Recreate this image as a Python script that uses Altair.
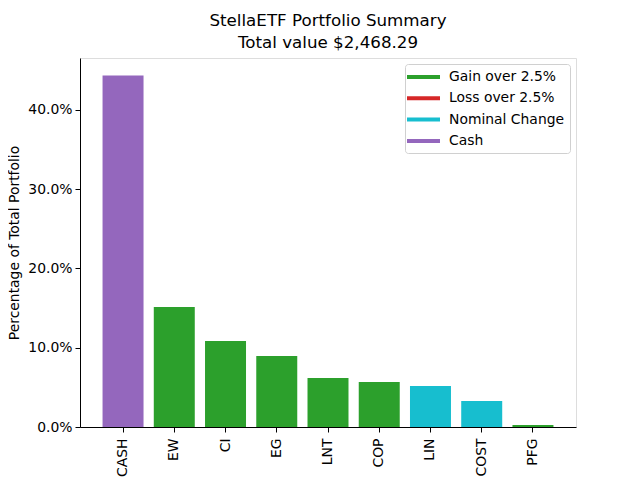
import altair as alt
import pandas as pd

tickers = ["CASH", "EW", "CI", "EG", "LNT", "COP", "LIN", "COST", "PFG"]
shares = [0.4435, 0.1514, 0.1085, 0.0896, 0.0618, 0.0568, 0.0517, 0.0328, 0.0025]
groups = ["Cash", "Gain over 2.5%", "Gain over 2.5%", "Gain over 2.5%", "Gain over 2.5%",
          "Gain over 2.5%", "Nominal Change", "Nominal Change", "Gain over 2.5%"]
legend_order = ["Gain over 2.5%", "Loss over 2.5%", "Nominal Change", "Cash"]
legend_colors = ["#2ca02c", "#d62728", "#17becf", "#9467bd"]

df = pd.DataFrame({"ticker": tickers, "share": shares, "group": groups})

FONT = "DejaVu Sans"

chart = alt.Chart(df).mark_bar().encode(
    x=alt.X("ticker:N", sort=None, title=None,
            scale=alt.Scale(paddingInner=0.2, paddingOuter=0.44),
            axis=alt.Axis(labelAngle=270, labelFontSize=13.9, labelColor="black",
                          tickColor="black", domainColor="black", tickSize=5,
                          labelPadding=6, labelFont=FONT)),
    y=alt.Y("share:Q", title="Percentage of Total Portfolio",
            scale=alt.Scale(domain=[0, 0.4656], nice=False, zero=True),
            axis=alt.Axis(format=".1%", values=[0, 0.1, 0.2, 0.3, 0.4], grid=False,
                          labelFontSize=13.9, labelColor="black", tickColor="black",
                          domainColor="black", tickSize=5, labelPadding=3,
                          titleFontSize=13.9, titleFontWeight="normal", titleColor="black",
                          titleFont=FONT, labelFont=FONT, titlePadding=6)),
    color=alt.Color("group:N",
                    scale=alt.Scale(domain=legend_order, range=legend_colors),
                    legend=alt.Legend(title=None, orient="top-right", offset=6,
                                      symbolType="M-1.375,-0.25L2.75,-0.25L2.75,0.25L-1.375,0.25Z",
                                      symbolStrokeWidth=0,
                                      symbolSize=256, labelFontSize=13.9,
                                      labelFont=FONT, labelColor="black",
                                      rowPadding=6.3, padding=5,
                                      strokeColor="#d0d0d0", fillColor="white",
                                      cornerRadius=3, labelOffset=23)),
).properties(
    width=496,
    height=369,
    title=alt.TitleParams(["StellaETF Portfolio Summary", "Total value $2,468.29"],
                          fontSize=16.7, fontWeight="normal", font=FONT,
                          color="black", anchor="middle", offset=6, lineHeight=22),
    autosize=alt.AutoSizeParams(type="none"),
    padding={"left": 72, "top": 50, "right": 56, "bottom": 53},
).configure_view(
    stroke="black", strokeWidth=1
).configure(font=FONT)

chart.save("out.html", embed_options={"renderer": "svg", "actions": False})
